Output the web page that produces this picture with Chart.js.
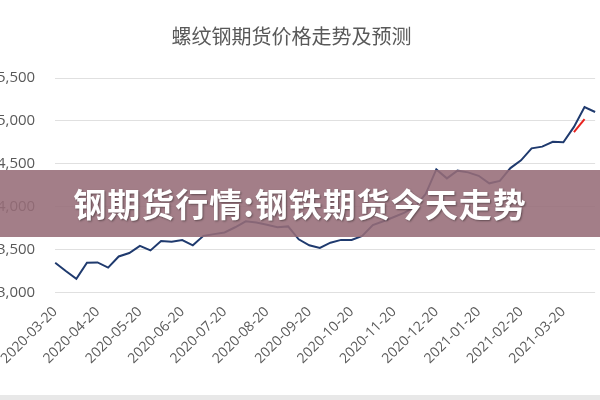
<!DOCTYPE html>
<html>
<head>
<meta charset="utf-8">
<script src="https://cdn.jsdelivr.net/npm/chart.js@4"></script>
<style>
  body { margin: 0; background: #fff; overflow: hidden; }
  #wrap { position: absolute; left: -23px; top: 0; width: 633px; height: 396px; }
  #band { position: absolute; left: 0; top: 170px; width: 600px; height: 67px; background: rgba(150, 108, 120, 0.88);
    color: #fff; font: bold 33px "Noto Sans CJK SC", sans-serif; text-align: center; line-height: 67px;
    text-shadow: 1px 1px 2px rgba(0,0,0,0.4); letter-spacing: 1px; }
  #bottom { position: absolute; left: 0; top: 395px; width: 600px; height: 5px; background: #e8e8e8; }
</style>
</head>
<body>
<div id="wrap"><canvas id="c"></canvas></div>
<div id="band">钢期货行情:钢铁期货今天走势</div>
<div id="bottom"></div>
<script>
// 4 points per month, labels only on the 20th
var months = ['2020-03-20', '2020-04-20', '2020-05-20', '2020-06-20', '2020-07-20', '2020-08-20', '2020-09-20',
  '2020-10-20', '2020-11-20', '2020-12-20', '2021-01-20', '2021-02-20', '2021-03-20'];
var price = [3347, 3250, 3160, 3347, 3350, 3290, 3420, 3460, 3543, 3490, 3600, 3590, 3610, 3550, 3660, 3680,
  3700, 3760, 3830, 3815, 3790, 3760, 3770, 3620, 3550, 3520, 3580, 3613, 3613, 3660, 3786, 3830,
  3880, 3930, 4000, 4150, 4434, 4330, 4420, 4400, 4360, 4272, 4300, 4450, 4540, 4680, 4700, 4757,
  4750, 4930, 5162, 5104];
var forecast = [];
for (var i = 0; i < price.length; i++) forecast.push(null);
forecast[49] = 4870; forecast[50] = 5020;

var labels = [];
for (var i = 0; i < price.length; i++) labels.push(i % 4 == 0 ? months[i / 4] : '');

new Chart(document.getElementById('c'), {
  type: 'line',
  data: {
    labels: labels,
    datasets: [
      { data: price, borderColor: '#1f3a6e', borderWidth: 2, pointRadius: 0, tension: 0 },
      { data: forecast, borderColor: '#e8231f', borderWidth: 2, pointRadius: 0, tension: 0 }
    ]
  },
  options: {
    responsive: true, maintainAspectRatio: false, animation: false,
    layout: { padding: { top: 0, right: 4, bottom: 26, left: 0 } },
    plugins: {
      legend: { display: false },
      tooltip: { enabled: false },
      title: { display: true, text: '螺纹钢期货价格走势及预测', color: '#595959',
        font: { family: '"Noto Sans CJK SC"', size: 20, weight: 'normal' }, padding: { top: 24, bottom: 30 } }
    },
    scales: {
      x: {
        offset: false,
        grid: { display: false },
        border: { display: false },
        ticks: { autoSkip: false, maxRotation: 45, minRotation: 45, color: '#595959',
          font: { family: '"Open Sans"', size: 14 } }
      },
      y: {
        min: 3000, max: 5500,
        ticks: { stepSize: 500, color: '#595959', padding: 20, font: { family: '"Open Sans"', size: 15 },
          callback: function (v) { return v.toLocaleString('en-US'); } },
        grid: { color: '#e0e0e0', drawTicks: false },
        border: { display: false }
      }
    }
  }
});
</script>
</body>
</html>
